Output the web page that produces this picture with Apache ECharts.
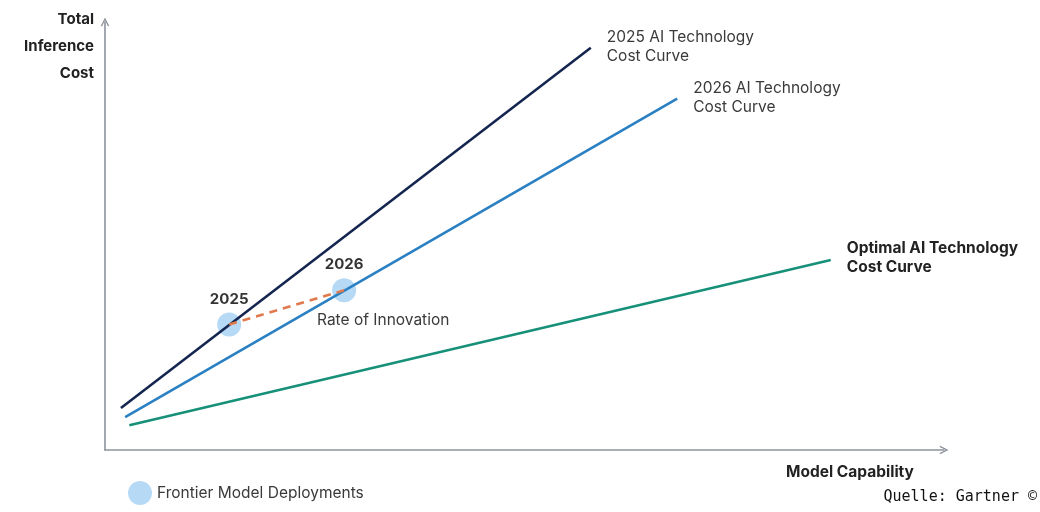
<!DOCTYPE html>
<html>
<head>
<meta charset="utf-8">
<script src="https://cdn.jsdelivr.net/npm/echarts@6/dist/echarts.min.js"></script>
<style>
html, body { margin: 0; padding: 0; background: #fff; }
#chart { width: 1040px; height: 512px; }
</style>
</head>
<body>
<div id="chart"></div>
<script>
// cost curves, [capability, cost] on a 0..100 scale
var curve2025 = [[1.9, 9.8], [57.9, 94.0]];
var curve2026 = [[2.4, 7.7], [68.2, 82.1]];
var curveOptimal = [[2.9, 5.8], [86.5, 44.4]];
var deployments = [[14.8, 29.3], [28.5, 37.3]];
var deploymentYears = ["2025", "2026"];
var curveNames = ["2025 AI Technology\nCost Curve", "2026 AI Technology\nCost Curve", "Optimal AI Technology\nCost Curve"];

var font = "Inter, Lato, 'Noto Sans', sans-serif";
var axisColor = "#8d929c";
var chevron = "path://M0,10 L5,0 L10,10 L8.6,10.8 L5,3.2 L1.4,10.8 Z";

function curveSeries(name, data, color, bold, offset) {
	return {
		name: name,
		type: 'line',
		data: data,
		symbol: 'none',
		silent: true,
		lineStyle: { color: color, width: 2.6 },
		endLabel: {
			show: true,
			formatter: name,
			color: bold ? '#222' : '#3a3a3a',
			fontFamily: font,
			fontSize: 15.5,
			fontWeight: bold ? 'bold' : 'normal',
			lineHeight: 19,
			align: 'left',
			offset: offset
		},
		z: 3
	};
}

var chart = echarts.init(document.getElementById('chart'));
var option = {
	animation: false,
	backgroundColor: '#fff',
	grid: { left: 105, right: 96, top: 22, bottom: 62 },
	xAxis: {
		type: 'value', min: 0, max: 100,
		splitLine: { show: false }, axisTick: { show: false }, axisLabel: { show: false },
		axisLine: { show: true, onZero: false, lineStyle: { color: axisColor, width: 1.6 },
			symbol: ['none', chevron], symbolSize: [15, 9], symbolOffset: [0, 0] }
	},
	yAxis: {
		type: 'value', min: 0, max: 100,
		splitLine: { show: false }, axisTick: { show: false }, axisLabel: { show: false },
		axisLine: { show: true, onZero: false, lineStyle: { color: axisColor, width: 1.6 },
			symbol: ['none', chevron], symbolSize: [15, 9], symbolOffset: [0, 0] }
	},
	legend: {
		left: 123, top: 476,
		itemWidth: 24, itemHeight: 24, itemGap: 8,
		icon: 'circle',
		data: ['Frontier Model Deployments'],
		textStyle: { color: '#3a3a3a', fontFamily: font, fontSize: 15.5 }
	},
	series: [
		curveSeries(curveNames[0], curve2025, '#14264f', false, [8, -1]),
		curveSeries(curveNames[1], curve2026, '#2a80c2', false, [8, -1]),
		curveSeries(curveNames[2], curveOptimal, '#17907a', true, [8, -2]),
		{
			name: 'Frontier Model Deployments',
			type: 'scatter',
			data: deployments,
			symbolSize: 24,
			itemStyle: { color: '#a9d3f5', opacity: 0.85 },
			label: {
				show: true, position: 'top', distance: 6,
				formatter: function (p) { return deploymentYears[p.dataIndex]; },
				color: '#111', fontFamily: font, fontSize: 15, fontWeight: 'bold'
			},
			z: 2
		},
		{
			name: 'Rate of Innovation',
			type: 'line',
			data: deployments,
			symbol: 'none',
			silent: true,
			lineStyle: { color: '#e07a4c', width: 2.6, type: [8, 6] },
			z: 4
		}
	],
	graphic: [
		{ type: 'text', x: 94, y: 6, style: { text: 'Total\nInference\nCost', align: 'right',
			font: 'bold 15px ' + font, fill: '#222', lineHeight: 27 } },
		{ type: 'text', left: 786, top: 464, style: { text: 'Model Capability',
			font: 'bold 15.5px ' + font, fill: '#222' } },
		{ type: 'text', left: 317, top: 312, style: { text: 'Rate of Innovation',
			font: '15.5px ' + font, fill: '#3a3a3a' } },
		{ type: 'text', right: 3, top: 490, style: { text: 'Quelle: Gartner ©',
			font: '15px "DejaVu Sans Mono", monospace', fill: '#111' } }
	]
};
chart.setOption(option);
</script>
</body>
</html>
